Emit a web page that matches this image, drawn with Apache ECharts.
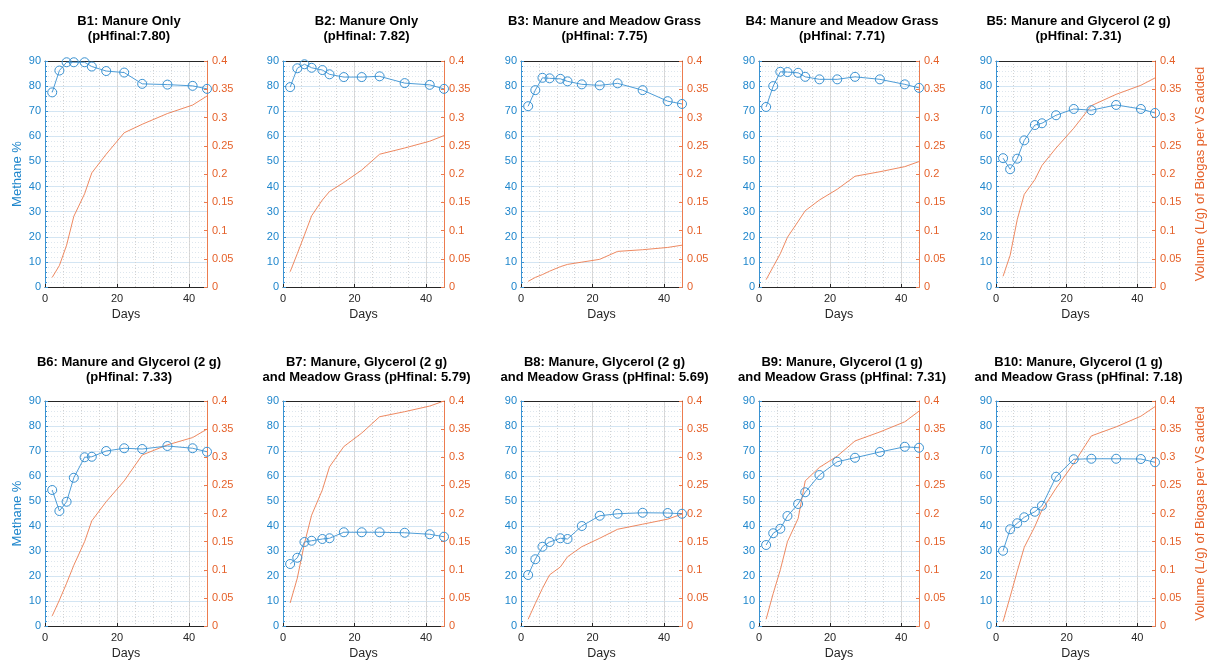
<!DOCTYPE html>
<html>
<head>
<meta charset="utf-8">
<title>Methane content and biogas yield, reactors B1–B10</title>
<script src="https://cdn.jsdelivr.net/npm/echarts@6/dist/echarts.min.js"></script>
<style>
  html, body { margin: 0; padding: 0; background: #ffffff; }
  #chart { width: 1210px; height: 663px; }
</style>
</head>
<body>
<div id="chart"></div>
<script>
// Sampling days shared by every reactor
const days = [2, 4, 6, 8, 11, 13, 17, 22, 27, 34, 41, 45];

// Panel titles
const panelTitles = [
  'B1: Manure Only\n(pHfinal:7.80)',
  'B2: Manure Only\n(pHfinal: 7.82)',
  'B3: Manure and Meadow Grass\n(pHfinal: 7.75)',
  'B4: Manure and Meadow Grass\n(pHfinal: 7.71)',
  'B5: Manure and Glycerol (2 g)\n(pHfinal: 7.31)',
  'B6: Manure and Glycerol (2 g)\n(pHfinal: 7.33)',
  'B7: Manure, Glycerol (2 g)\nand Meadow Grass (pHfinal: 5.79)',
  'B8: Manure, Glycerol (2 g)\nand Meadow Grass (pHfinal: 5.69)',
  'B9: Manure, Glycerol (1 g)\nand Meadow Grass (pHfinal: 7.31)',
  'B10: Manure, Glycerol (1 g)\nand Meadow Grass (pHfinal: 7.18)'
];

// Methane content (%) per reactor
const methaneB1  = [77.5, 86.2, 89.5, 89.5, 89.5, 87.8, 86.0, 85.4, 80.9, 80.6, 80.1, 78.9];
const methaneB2  = [79.6, 87.1, 88.7, 87.3, 86.4, 84.7, 83.6, 83.6, 83.9, 81.2, 80.5, 78.9];
const methaneB3  = [72.0, 78.4, 83.3, 83.1, 82.9, 81.9, 80.7, 80.3, 81.1, 78.4, 74.0, 72.9];
const methaneB4  = [71.7, 80.0, 85.7, 85.6, 85.3, 83.7, 82.7, 82.7, 83.7, 82.7, 80.7, 79.3];
const methaneB5  = [51.3, 46.9, 51.1, 58.4, 64.5, 65.2, 68.4, 70.9, 70.4, 72.5, 70.9, 69.3];
const methaneB6  = [54.4, 46.0, 49.7, 59.3, 67.5, 67.7, 70.0, 71.1, 70.8, 72.0, 71.1, 69.7];
const methaneB7  = [24.8, 27.3, 33.6, 34.1, 34.8, 35.1, 37.5, 37.5, 37.5, 37.3, 36.7, 35.7];
const methaneB8  = [20.4, 26.7, 31.7, 33.6, 35.1, 34.8, 40.0, 44.1, 44.9, 45.3, 45.2, 44.9];
const methaneB9  = [32.4, 37.1, 38.9, 44.0, 48.8, 53.5, 60.4, 65.7, 67.3, 69.6, 71.7, 71.3];
const methaneB10 = [30.1, 38.7, 41.1, 43.5, 45.7, 48.1, 59.7, 66.7, 66.9, 66.9, 66.8, 65.5];

// Cumulative biogas volume per VS added (L/g) per reactor
const biogasB1  = [0.017, 0.038, 0.074, 0.125, 0.165, 0.202, 0.235, 0.273, 0.288, 0.307, 0.322, 0.338];
const biogasB2  = [0.027, 0.059, 0.092, 0.126, 0.154, 0.169, 0.185, 0.207, 0.235, 0.246, 0.258, 0.268];
const biogasB3  = [0.010, 0.017, 0.022, 0.028, 0.036, 0.040, 0.044, 0.049, 0.063, 0.066, 0.070, 0.074];
const biogasB4  = [0.013, 0.036, 0.059, 0.088, 0.116, 0.135, 0.154, 0.173, 0.196, 0.204, 0.213, 0.222];
const biogasB5  = [0.019, 0.056, 0.119, 0.164, 0.190, 0.215, 0.246, 0.281, 0.321, 0.341, 0.357, 0.370];
const biogasB6  = [0.018, 0.046, 0.076, 0.108, 0.150, 0.187, 0.221, 0.258, 0.304, 0.322, 0.335, 0.350];
const biogasB7  = [0.041, 0.085, 0.147, 0.197, 0.242, 0.283, 0.319, 0.343, 0.372, 0.381, 0.391, 0.400];
const biogasB8  = [0.012, 0.040, 0.067, 0.091, 0.105, 0.123, 0.141, 0.156, 0.172, 0.181, 0.190, 0.199];
const biogasB9  = [0.012, 0.058, 0.100, 0.150, 0.191, 0.258, 0.282, 0.302, 0.329, 0.345, 0.363, 0.382];
const biogasB10 = [0.008, 0.052, 0.097, 0.140, 0.177, 0.206, 0.245, 0.289, 0.338, 0.354, 0.373, 0.390];

const methaneSets = [methaneB1, methaneB2, methaneB3, methaneB4, methaneB5,
                     methaneB6, methaneB7, methaneB8, methaneB9, methaneB10];
const biogasSets = [biogasB1, biogasB2, biogasB3, biogasB4, biogasB5,
                    biogasB6, biogasB7, biogasB8, biogasB9, biogasB10];

// Layout of the 2 x 5 panel grid (pixels)
const colLeft  = [45, 283, 521, 759, 996];
const colWidth = [162, 161, 161, 160, 159];
const rowTop   = [61, 401];
const rowHeight = [226, 225];
const titleTop = [9, 350];

const BLUE_TEXT = '#1f86cc';
const BLUE_LINE = '#3a92d2';
const ORANGE_TEXT = '#e5612a';
const ORANGE_LINE = '#ec7c4f';
const DARK = '#262626';
const FONT = 'Liberation Sans, Arial, sans-serif';

const pair = arr => days.map((d, i) => [d, arr[i]]);

const grid = [], xAxis = [], yAxis = [], series = [], title = [];

for (let p = 0; p < 10; p++) {
  const r = Math.floor(p / 5), c = p % 5;
  const left = colLeft[c], width = colWidth[c];
  grid.push({ left: left, top: rowTop[r], width: width, height: rowHeight[r], containLabel: false });

  title.push({
    text: panelTitles[p],
    left: left + width / 2 - 2,
    top: titleTop[r],
    textAlign: 'center',
    textStyle: { fontFamily: FONT, fontSize: 13, fontWeight: 'bold', color: '#000', lineHeight: 15 }
  });

  // Bottom day axis: labels and solid major grid
  xAxis.push({
    gridIndex: p, type: 'value', min: 0, max: 45, interval: 20,
    name: 'Days', nameLocation: 'middle', nameGap: 21,
    nameTextStyle: { fontFamily: FONT, fontSize: 12.5, color: DARK },
    axisLine: { show: true, onZero: false, lineStyle: { color: DARK, width: 1 } },
    axisTick: { show: true, inside: true, length: 3, lineStyle: { color: DARK } },
    axisLabel: { showMaxLabel: false, margin: 6, fontFamily: FONT, fontSize: 11, color: DARK },
    splitLine: { show: true, lineStyle: { color: '#dadada', width: 1 } }
  });
  // Top box edge and dotted minor day grid every 5 days
  xAxis.push({
    gridIndex: p, type: 'value', min: 0, max: 45, interval: 5, position: 'top',
    axisLine: { show: true, onZero: false, lineStyle: { color: DARK, width: 1 } },
    axisTick: { show: false }, axisLabel: { show: false },
    splitLine: { show: true, lineStyle: { color: '#d2d2d2', width: 1, type: [1, 2] } }
  });

  // Left axis: methane percentage
  yAxis.push({
    gridIndex: p, type: 'value', min: 0, max: 90, interval: 10, position: 'left',
    name: (c === 0) ? 'Methane %' : '', nameLocation: 'middle', nameGap: 21,
    nameTextStyle: { fontFamily: FONT, fontSize: 13, color: BLUE_TEXT },
    axisLine: { show: true, onZero: false, lineStyle: { color: BLUE_LINE, width: 1 } },
    axisTick: { show: true, inside: true, length: 3, lineStyle: { color: BLUE_LINE } },
    minorTick: { show: true, splitNumber: 5, length: 2, lineStyle: { color: BLUE_LINE } },
    axisLabel: { margin: 4, fontFamily: FONT, fontSize: 11, color: BLUE_TEXT },
    splitLine: { show: true, lineStyle: { color: '#d3e5f3', width: 1 } },
    minorSplitLine: { show: true, lineStyle: { color: '#dde6ee', width: 1, type: [1, 2] } }
  });
  // Right axis: biogas volume per VS added
  yAxis.push({
    gridIndex: p, type: 'value', min: 0, max: 0.4, interval: 0.05, position: 'right',
    name: (c === 4) ? 'Volume (L/g) of Biogas per VS added' : '', nameLocation: 'middle', nameGap: 39,
    nameRotate: 90,
    nameTextStyle: { fontFamily: FONT, fontSize: 13, color: ORANGE_TEXT },
    axisLine: { show: true, onZero: false, lineStyle: { color: ORANGE_LINE, width: 1 } },
    axisTick: { show: true, inside: true, length: 3, lineStyle: { color: ORANGE_LINE } },
    axisLabel: {
      margin: 5, fontFamily: FONT, fontSize: 11, color: ORANGE_TEXT,
      formatter: v => String(parseFloat(v.toFixed(2)))
    },
    splitLine: { show: false }
  });

  series.push({
    type: 'line', name: 'Methane', xAxisIndex: 2 * p, yAxisIndex: 2 * p,
    data: pair(methaneSets[p]),
    symbol: 'circle', symbolSize: 9, showSymbol: true, clip: false,
    lineStyle: { color: BLUE_LINE, width: 0.9 },
    itemStyle: { color: 'rgba(255,255,255,0)', borderColor: BLUE_LINE, borderWidth: 1 },
    silent: true, animation: false, z: 3
  });
  series.push({
    type: 'line', name: 'Biogas', xAxisIndex: 2 * p, yAxisIndex: 2 * p + 1,
    data: pair(biogasSets[p]),
    showSymbol: false, symbol: 'none',
    lineStyle: { color: ORANGE_LINE, width: 0.9 },
    silent: true, animation: false, z: 2
  });
}

const chart = echarts.init(document.getElementById('chart'), null, { renderer: 'canvas' });
chart.setOption({
  backgroundColor: '#ffffff',
  animation: false,
  title: title,
  grid: grid,
  xAxis: xAxis,
  yAxis: yAxis,
  series: series
});
</script>
</body>
</html>
